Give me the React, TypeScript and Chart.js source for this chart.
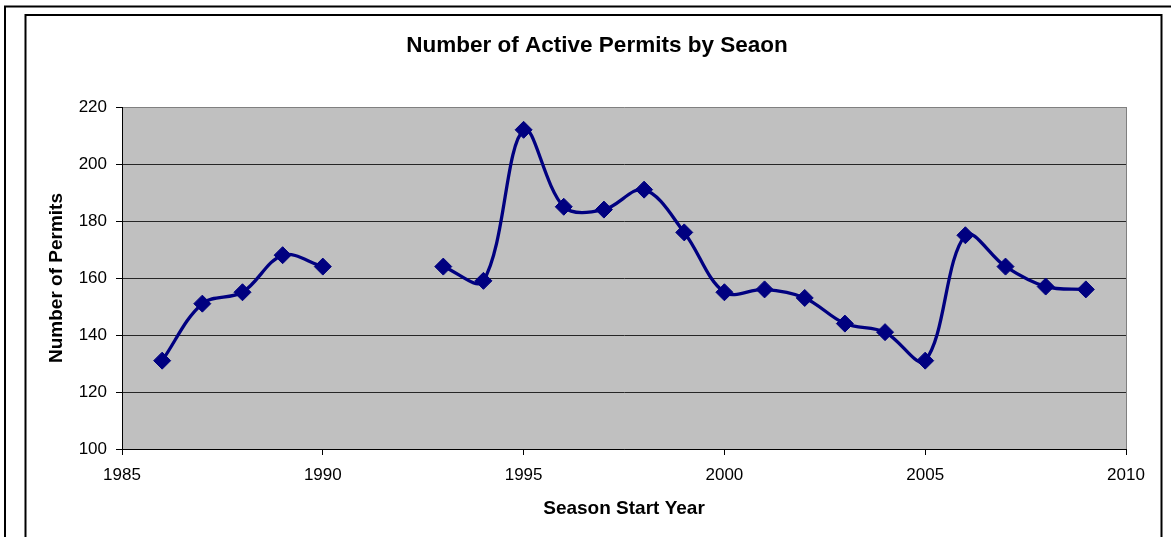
import React, { useEffect, useRef } from "react";
import { Chart, registerables } from "chart.js";

Chart.register(...registerables);

const years = [1986, 1987, 1988, 1989, 1990, 1991, 1992, 1993, 1994, 1995, 1996, 1997, 1998, 1999, 2000, 2001, 2002, 2003, 2004, 2005, 2006, 2007, 2008, 2009];
const permits: (number | null)[] = [131, 151, 155, 168, 164, null, null, 164, 159, 212, 185, 184, 191, 176, 155, 156, 153, 144, 141, 131, 175, 164, 157, 156];
const xTicks = [1985, 1990, 1995, 2000, 2005, 2010];
const yTicks = [100, 120, 140, 160, 180, 200, 220];

const titleText = "Number of Active Permits by Seaon";
const xTitle = "Season Start Year";
const yTitle = "Number of Permits";

const FONT = "'Liberation Sans', Arial, sans-serif";

const framePlugin = {
  id: "frame",
  beforeDraw(chart: any) {
    const { ctx, chartArea, width, height } = chart;
    ctx.save();
    ctx.fillStyle = "#ffffff";
    ctx.fillRect(0, 0, width, height);
    ctx.fillStyle = "#C0C0C0";
    ctx.fillRect(chartArea.left, chartArea.top, chartArea.right - chartArea.left, chartArea.bottom - chartArea.top);
    ctx.restore();
  },
  beforeDatasetsDraw(chart: any) {
    const { ctx, chartArea } = chart;
    ctx.save();
    ctx.strokeStyle = "#808080";
    ctx.lineWidth = 1;
    ctx.beginPath();
    ctx.moveTo(Math.round(chartArea.right) + 0.5, chartArea.top);
    ctx.lineTo(Math.round(chartArea.right) + 0.5, chartArea.bottom);
    ctx.stroke();
    ctx.restore();
  },
  afterDraw(chart: any) {
    const { ctx, width, height } = chart;
    ctx.save();
    ctx.strokeStyle = "#000000";
    ctx.lineWidth = 2;
    ctx.beginPath();
    ctx.moveTo(5, height + 2);
    ctx.lineTo(5, 6.5);
    ctx.lineTo(width + 2, 6.5);
    ctx.stroke();
    ctx.beginPath();
    ctx.moveTo(25.5, height + 2);
    ctx.lineTo(25.5, 15);
    ctx.lineTo(1161.5, 15);
    ctx.lineTo(1161.5, height + 2);
    ctx.stroke();
    ctx.restore();
  },
};

export default function App() {
  const ref = useRef<HTMLCanvasElement | null>(null);
  useEffect(() => {
    if (!ref.current) return;
    const data = years.map((y, i) => ({ x: y, y: permits[i] }));
    const chart = new Chart(ref.current, {
      type: "line",
      data: {
        datasets: [
          {
            label: "Permits",
            data: data as any,
            borderColor: "#000080",
            backgroundColor: "#000080",
            borderWidth: 3.3,
            pointStyle: "rectRot",
            pointRadius: 8.5,
            pointBorderWidth: 1,
            pointBackgroundColor: "#000080",
            pointBorderColor: "#000080",
            tension: 0.35,
            spanGaps: false,
            fill: false,
          },
        ],
      },
      options: {
        responsive: false,
        animation: false,
        layout: { padding: { left: 23, right: 0, top: 0, bottom: 0 } },
        plugins: {
          legend: { display: false },
          tooltip: { enabled: false },
          title: {
            display: true,
            text: titleText,
            color: "#000",
            font: { family: FONT, size: 22.5, weight: "bold", lineHeight: 1.2 },
            padding: { top: 32, bottom: 48 },
          },
        },
        scales: {
          x: {
            type: "linear",
            min: 1985,
            max: 2010,
            afterBuildTicks: (s: any) => {
              s.ticks = xTicks.map((v) => ({ value: v }));
            },
            afterFit: (s: any) => {
              s.height = 88;
            },
            ticks: {
              color: "#000",
              font: { family: FONT, size: 17 },
              padding: 10,
              maxRotation: 0,
              autoSkip: false,
              callback: (v: any) => String(v),
            },
            grid: { drawOnChartArea: false, drawTicks: true, tickLength: 6, tickColor: "#000" },
            border: { display: true, color: "#000", width: 1 },
            title: {
              display: true,
              text: xTitle,
              color: "#000",
              font: { family: FONT, size: 19, weight: "bold", lineHeight: 1.2 },
              padding: { top: 17, bottom: 17 },
            },
          },
          y: {
            type: "linear",
            min: 100,
            max: 220,
            afterBuildTicks: (s: any) => {
              s.ticks = yTicks.map((v) => ({ value: v }));
            },
            afterFit: (s: any) => {
              s.width = 99;
            },
            ticks: {
              color: "#000",
              font: { family: FONT, size: 17 },
              padding: 9,
              autoSkip: false,
            },
            grid: {
              drawOnChartArea: true,
              drawTicks: true,
              tickLength: 6,
              tickColor: "#000",
              lineWidth: 1,
              color: (c: any) => (c.tick && c.tick.value === 220 ? "#808080" : "#262626"),
            },
            border: { display: true, color: "#000", width: 1 },
            title: {
              display: true,
              text: yTitle,
              color: "#000",
              font: { family: FONT, size: 19, weight: "bold", lineHeight: 1.2 },
              padding: { top: 22.6, bottom: 22.6 },
            },
          },
          yR: {
            type: "linear",
            position: "right",
            display: true,
            afterFit: (s: any) => {
              s.width = 45;
            },
            ticks: { display: false },
            grid: { display: false, drawTicks: false },
            border: { display: false },
          },
        },
      } as any,
      plugins: [framePlugin],
    });
    return () => chart.destroy();
  }, []);
  return (
    <div style={{ position: "absolute", left: 0, top: 0, width: 1171, height: 537 }}>
      <canvas ref={ref} width={1171} height={537} />
    </div>
  );
}
